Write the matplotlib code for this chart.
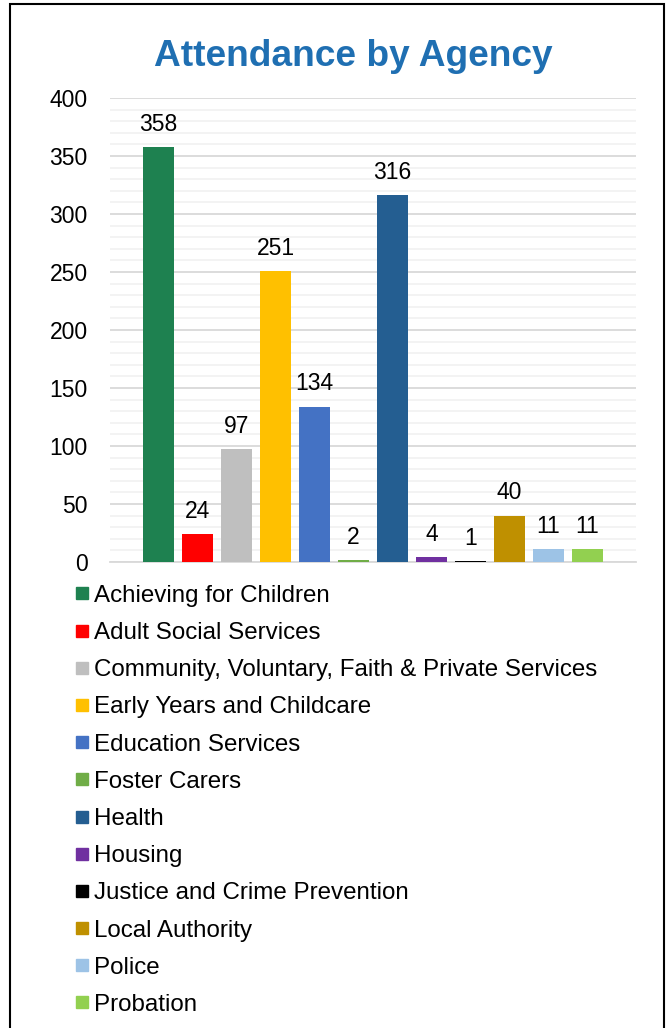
import matplotlib.pyplot as plt
from matplotlib.lines import Line2D
from matplotlib.patches import Rectangle
from matplotlib.ticker import MultipleLocator

plt.rcParams['font.family'] = ['Liberation Sans', 'DejaVu Sans']

agencies = ['Achieving for Children', 'Adult Social Services',
            'Community, Voluntary, Faith & Private Services',
            'Early Years and Childcare', 'Education Services', 'Foster Carers',
            'Health', 'Housing', 'Justice and Crime Prevention',
            'Local Authority', 'Police', 'Probation']
attendance = [358, 24, 97, 251, 134, 2, 316, 4, 1, 40, 11, 11]
colours = ['#1E8150', '#FF0000', '#BFBFBF', '#FFC000', '#4472C4', '#70AD47',
           '#245E91', '#7030A0', '#000000', '#BF9000', '#9DC3E6', '#92D050']

fig = plt.figure(figsize=(6.68, 10.28), dpi=100)
ax = fig.add_axes([0.1647, 0.4533, 0.7873, 0.4514])

x = range(len(agencies))
bars = ax.bar(x, attendance, width=0.8, color=colours, zorder=3)
for b, v in zip(bars, attendance):
    ax.annotate(str(v), (b.get_x() + b.get_width() / 2, v), xytext=(0, 8),
                textcoords='offset points', ha='center', va='bottom', fontsize=16.5)

ax.set_ylim(0, 400)
ax.set_xlim(-1.24, len(agencies) - 1 + 1.24)
ax.yaxis.set_major_locator(MultipleLocator(50))
ax.yaxis.set_minor_locator(MultipleLocator(10))
ax.grid(which='major', axis='y', color='#D9D9D9', lw=1.3, zorder=1)
ax.grid(which='minor', axis='y', color='#F2F2F2', lw=1.3, zorder=0)
ax.set_xticks([])
ax.tick_params(axis='y', which='both', length=0, labelsize=16.5, pad=16)
for s in ['top', 'right', 'left']:
    ax.spines[s].set_visible(False)
ax.spines['bottom'].set_color('#D9D9D9')
ax.spines['bottom'].set_linewidth(1.3)

fig.text(0.529, 0.945, 'Attendance by Agency', ha='center', va='center',
         fontsize=26.7, fontweight='bold', color='#1F6FB2')

handles = [Line2D([], [], marker='s', ls='none', color=c, markersize=9) for c in colours]
fig.legend(handles, agencies, loc='upper left', bbox_to_anchor=(0.113, 0.431),
           frameon=False, fontsize=17.35, handlelength=0.55, handletextpad=0.22,
           labelspacing=0.63, borderaxespad=0, borderpad=0)

fig.patches.append(Rectangle((0.015, -0.01), 0.979, 1.006, transform=fig.transFigure,
                             fill=False, ec='black', lw=1.5))

fig.savefig('out.png', dpi=100)
